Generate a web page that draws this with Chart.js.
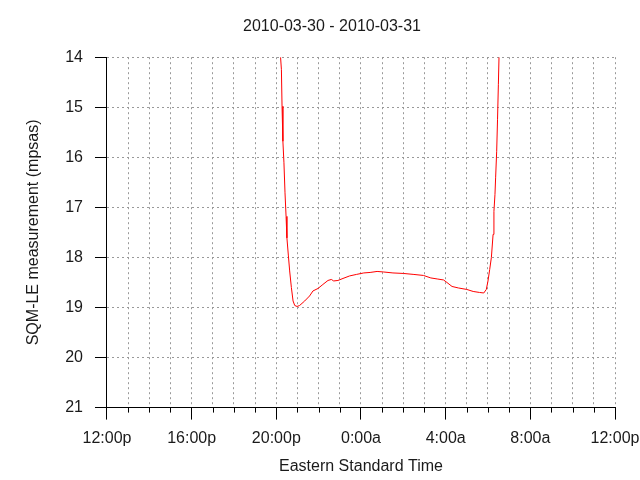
<!DOCTYPE html>
<html>
<head>
<meta charset="utf-8">
<script src="https://cdn.jsdelivr.net/npm/chart.js@4"></script>
<style>
  html, body { margin: 0; padding: 0; background: #fff; }
</style>
</head>
<body>
<canvas id="sqmChart" width="640" height="480"></canvas>
<script>
// hours since noon of 2010-03-30 (12 = 12:00p, 24 = midnight, 36 = next noon)
const hours = [20.2, 20.24, 20.27, 20.31, 20.36, 20.41, 20.46, 20.5, 20.57, 20.63, 20.71, 20.79, 20.87,
  20.98, 21.1, 21.34, 21.57, 21.73, 21.97, 22.2, 22.44, 22.6, 22.71, 22.91, 23.15, 23.46, 23.78,
  24.13, 24.43, 24.76, 25.05, 25.51, 26.0, 26.5, 26.95, 27.3, 27.6, 27.9, 28.06, 28.3, 28.6,
  29.0, 29.3, 29.6, 29.8, 29.92, 30.0, 30.08, 30.16, 30.24, 30.28, 30.33, 30.36, 30.41, 30.45,
  30.49, 30.52];
const sqm = [14.0, 14.25, 14.98, 15.68, 16.11, 16.71, 17.18, 17.61, 17.97, 18.27, 18.6, 18.87, 18.96,
  18.98, 18.96, 18.87, 18.77, 18.67, 18.62, 18.54, 18.46, 18.44, 18.47, 18.46, 18.42, 18.37, 18.34,
  18.31, 18.3, 18.28, 18.29, 18.31, 18.32, 18.34, 18.36, 18.41, 18.43, 18.45, 18.5, 18.58, 18.61,
  18.64, 18.68, 18.7, 18.71, 18.64, 18.47, 18.24, 18.0, 17.54, 17.08, 16.74, 16.41, 15.88, 15.25,
  14.55, 14.0];
const tickLabels = ['12:00p', '16:00p', '20:00p', '0:00a', '4:00a', '8:00a', '12:00p'];

const font = { family: 'Liberation Sans, Arial, sans-serif', size: 16 };
const textColor = '#1a1a1a';

// short minor tick marks between the labelled ones
const minorTicks = {
  id: 'minorTicks',
  afterDraw(chart) {
    const xs = chart.scales.x;
    const ctx = chart.ctx;
    const y0 = xs.top;
    ctx.save();
    ctx.strokeStyle = '#000';
    ctx.lineWidth = 1;
    xs.ticks.forEach(t => {
      if ((t.value - 12) % 4 !== 0) {
        const px = Math.round(xs.getPixelForValue(t.value)) + 0.5;
        ctx.beginPath();
        ctx.moveTo(px, y0);
        ctx.lineTo(px, y0 + 5);
        ctx.stroke();
      }
    });
    ctx.restore();
  }
};

new Chart(document.getElementById('sqmChart'), {
  type: 'line',
  data: {
    datasets: [{
      data: hours.map((h, i) => ({ x: h, y: sqm[i] })),
      borderColor: '#ff0000',
      borderWidth: 1,
      pointRadius: 0,
      tension: 0,
      fill: false
    }]
  },
  options: {
    responsive: false,
    animation: false,
    devicePixelRatio: 1,
    layout: { padding: { left: 24, right: 0, top: 6, bottom: 4 } },
    plugins: {
      legend: { display: false },
      tooltip: { enabled: false },
      title: {
        display: true,
        text: '2010-03-30 - 2010-03-31',
        color: textColor,
        font: { family: font.family, size: 16, weight: 'normal' },
        padding: { top: 11, bottom: 21 }
      }
    },
    scales: {
      x: {
        type: 'linear',
        min: 12,
        max: 36,
        // let the last label run closer to the canvas edge, as in the original
        afterFit: s => { s.paddingRight = 25; },
        ticks: {
          stepSize: 1,
          autoSkip: false,
          maxRotation: 0,
          color: textColor,
          font: font,
          padding: 9,
          callback: v => ((v - 12) % 4 === 0 ? tickLabels[(v - 12) / 4] : '')
        },
        grid: {
          color: '#999',
          tickLength: 12,
          tickBorderDash: [],
          tickColor: c => ((c.tick && (c.tick.value - 12) % 4 === 0) ? '#000' : 'rgba(0,0,0,0)')
        },
        border: { display: true, color: '#000', width: 1, dash: [2, 3] },
        title: {
          display: true,
          text: 'Eastern Standard Time',
          color: textColor,
          font: font,
          padding: { top: 0, bottom: 0 }
        }
      },
      y: {
        reverse: true,
        min: 14,
        max: 21,
        ticks: {
          stepSize: 1,
          color: textColor,
          font: font,
          padding: 12
        },
        grid: {
          color: '#999',
          tickLength: 12,
          tickBorderDash: [],
          tickColor: '#000'
        },
        border: { display: true, color: '#000', width: 1, dash: [2, 3] },
        title: {
          display: true,
          text: 'SQM-LE measurement (mpsas)',
          color: textColor,
          font: font,
          padding: { top: 0, bottom: 10 }
        }
      }
    }
  },
  plugins: [minorTicks]
});
</script>
</body>
</html>
